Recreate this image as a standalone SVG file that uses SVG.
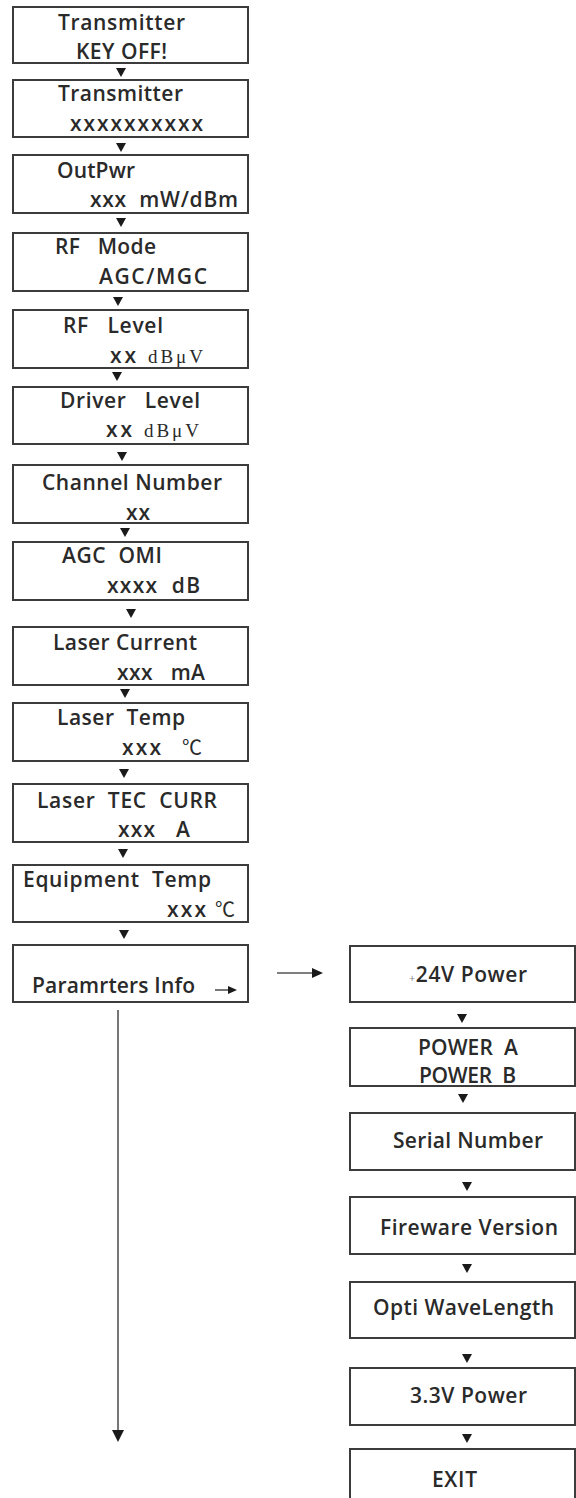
<svg xmlns="http://www.w3.org/2000/svg" width="576" height="1498" viewBox="0 0 576 1498">
<style>
.box{fill:#fff;stroke:#3c3c3c;stroke-width:2}
text{white-space:pre}
.t{font-family:"Open Sans","DejaVu Sans",sans-serif;font-weight:600;font-size:21px;fill:#2a2a2a}
.s{font-family:"Liberation Serif","DejaVu Serif",serif;font-weight:400;font-size:19px;fill:#2a2a2a}
.c{font-family:"Noto Sans CJK SC","DejaVu Sans",sans-serif;font-weight:400;font-size:20px;fill:#2a2a2a}
.ah{fill:#1a1a1a}
.ln{stroke:#555;stroke-width:1.6;fill:none}
</style>
<rect width="576" height="1498" fill="#fff"/>
<g id="n1"><rect class="box" x="13" y="7" width="235" height="56"/>
<text class="t" x="58" y="30" textLength="127">Transmitter</text>
<text class="t" x="76" y="59" textLength="91">KEY OFF!</text></g>
<g id="n2"><rect class="box" x="13" y="80" width="235" height="57"/>
<text class="t" x="58" y="101" textLength="125">Transmitter</text>
<text class="t" x="70" y="131" textLength="133">xxxxxxxxxx</text></g>
<g id="n3"><rect class="box" x="13" y="155" width="235" height="58"/>
<text class="t" x="57" y="178" textLength="78">OutPwr</text>
<text class="t" x="90" y="207" textLength="148">xxx  mW/dBm</text></g>
<g id="n4"><rect class="box" x="13" y="233" width="235" height="58"/>
<text class="t" x="55" y="254" textLength="101">RF   Mode</text>
<text class="t" x="99" y="284" textLength="108">AGC/MGC</text></g>
<g id="n5"><rect class="box" x="13" y="310" width="235" height="58"/>
<text class="t" x="63" y="333" textLength="100">RF   Level</text>
<text class="t" x="110" y="363" textLength="26">xx</text><text class="s" x="148" y="363" textLength="55">dBμV</text></g>
<g id="n6"><rect class="box" x="13" y="387" width="235" height="57"/>
<text class="t" x="60" y="408" textLength="140">Driver   Level</text>
<text class="t" x="106" y="437" textLength="26">xx</text><text class="s" x="144" y="437" textLength="55">dBμV</text></g>
<g id="n7"><rect class="box" x="13" y="465" width="235" height="58"/>
<text class="t" x="42" y="490" textLength="180">Channel Number</text>
<text class="t" x="126" y="520" textLength="24">xx</text></g>
<g id="n8"><rect class="box" x="13" y="542" width="235" height="58"/>
<text class="t" x="62" y="563" textLength="100">AGC  OMI</text>
<text class="t" x="107" y="593" textLength="93">xxxx  dB</text></g>
<g id="n9"><rect class="box" x="13" y="627" width="235" height="58"/>
<text class="t" x="53" y="650" textLength="144">Laser Current</text>
<text class="t" x="117" y="680" textLength="88">xxx   mA</text></g>
<g id="n10"><rect class="box" x="13" y="703" width="235" height="58"/>
<text class="t" x="57" y="725" textLength="128">Laser  Temp</text>
<text class="t" x="122" y="755" textLength="39">xxx</text><text class="c" x="182" y="755">℃</text></g>
<g id="n11"><rect class="box" x="13" y="784" width="235" height="58"/>
<text class="t" x="37" y="808" textLength="180">Laser  TEC  CURR</text>
<text class="t" x="118" y="837" textLength="72">xxx   A</text></g>
<g id="n12"><rect class="box" x="13" y="865" width="235" height="57"/>
<text class="t" x="23" y="887" textLength="188">Equipment  Temp</text>
<text class="t" x="167" y="917" textLength="39">xxx</text><text class="c" x="215" y="917">℃</text></g>
<g id="n13"><rect class="box" x="13" y="945" width="235" height="57"/>
<text class="t" x="32" y="993" textLength="163">Paramrters Info</text></g>
<g id="r1"><rect class="box" x="350" y="946" width="225" height="56"/>
<text class="t" x="409" y="982" textLength="118"><tspan font-size="11" font-weight="400" fill="#888">+</tspan>24V Power</text></g>
<g id="r2"><rect class="box" x="350" y="1028" width="225" height="58"/>
<text class="t" x="418" y="1055" textLength="100">POWER  A</text>
<text class="t" x="419" y="1083" textLength="97">POWER  B</text></g>
<g id="r3"><rect class="box" x="350" y="1113" width="225" height="57"/>
<text class="t" x="393" y="1148" textLength="150">Serial Number</text></g>
<g id="r4"><rect class="box" x="350" y="1197" width="225" height="57"/>
<text class="t" x="380" y="1235" textLength="178">Fireware Version</text></g>
<g id="r5"><rect class="box" x="350" y="1282" width="225" height="56"/>
<text class="t" x="373" y="1315" textLength="181">Opti WaveLength</text></g>
<g id="r6"><rect class="box" x="350" y="1368" width="225" height="57"/>
<text class="t" x="410" y="1403" textLength="117">3.3V Power</text></g>
<g id="r7"><rect class="box" x="350" y="1449" width="225" height="70"/>
<text class="t" x="432" y="1487" textLength="45">EXIT</text></g>
<g id="connectors">
<polygon class="ah" points="116,68 126,68 121,77"/>
<polygon class="ah" points="116,143 126,143 121,152"/>
<polygon class="ah" points="116,218 126,218 121,227"/>
<polygon class="ah" points="113,297 123,297 118,306"/>
<polygon class="ah" points="112,372 122,372 117,381"/>
<polygon class="ah" points="117,452 127,452 122,461"/>
<polygon class="ah" points="120,528 130,528 125,537"/>
<polygon class="ah" points="126,609 136,609 131,618"/>
<polygon class="ah" points="120,689 130,689 125,698"/>
<polygon class="ah" points="119,769 129,769 124,778"/>
<polygon class="ah" points="118,849 128,849 123,858"/>
<polygon class="ah" points="119,930 129,930 124,939"/>
<line class="ln" x1="118" y1="1010" x2="118" y2="1432"/>
<polygon class="ah" points="112,1430 124,1430 118,1442"/>
<line class="ln" x1="277" y1="973" x2="314" y2="973" stroke-width="2"/>
<polygon class="ah" points="312,968 323,973 312,978"/>
<line class="ln" x1="215" y1="990" x2="229" y2="990" stroke-width="2"/>
<polygon class="ah" points="228,986 237,990 228,994"/>
<polygon class="ah" points="457,1014 467,1014 462,1023"/>
<polygon class="ah" points="458,1094 468,1094 463,1103"/>
<polygon class="ah" points="462,1182 472,1182 467,1191"/>
<polygon class="ah" points="462,1264 472,1264 467,1273"/>
<polygon class="ah" points="462,1354 472,1354 467,1363"/>
<polygon class="ah" points="462,1434 472,1434 467,1443"/>
</g>
</svg>
